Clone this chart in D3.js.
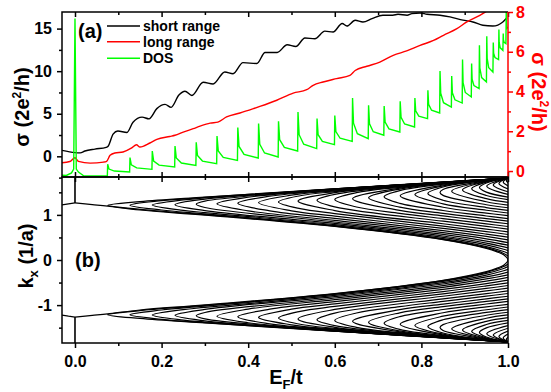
<!DOCTYPE html>
<html>
<head>
<meta charset="utf-8">
<script src="https://cdn.jsdelivr.net/npm/d3@7"></script>
<style>
  body { margin: 0; background: #fff; }
  svg text { font-family: "Liberation Sans", Arial, sans-serif; font-weight: bold; }
</style>
</head>
<body>
<div id="chart"></div>
<script>
// ---------- values ----------

// subband edges (E/t), taken from the DOS spikes / band tips
var subbandEdges = [0.0755, 0.127, 0.1785, 0.231, 0.280, 0.328, 0.376, 0.424, 0.470, 0.515,
                    0.559, 0.600, 0.641, 0.678, 0.714, 0.751, 0.785, 0.815, 0.843, 0.870,
                    0.895, 0.916, 0.934, 0.951, 0.966, 0.979, 0.989, 0.996];

// panel (a): short range conductance (left axis)
var shortE = [-0.030, 0.000, 0.012, 0.023, 0.046, 0.072, 0.076, 0.088, 0.099, 0.120,
              0.134, 0.155, 0.171, 0.189, 0.208, 0.222, 0.240, 0.254, 0.270, 0.296,
              0.319, 0.346, 0.365, 0.388, 0.420, 0.439, 0.467, 0.490, 0.510, 0.531,
              0.554, 0.577, 0.596, 0.617, 0.628, 0.647, 0.665, 0.686, 0.711, 0.734,
              0.746, 0.767, 0.778, 0.797, 0.813, 0.843, 0.866, 0.896, 0.919, 0.942,
              0.965, 0.988, 0.998];
var shortV = [0.70, 0.43, 0.40, 0.62, 0.85, 1.05, 1.15, 2.60, 2.97, 2.80,
              4.00, 4.60, 4.40, 5.60, 6.10, 5.75, 7.20, 7.65, 7.15, 8.70,
              8.50, 9.90, 9.70, 11.0, 10.9, 12.2, 12.2, 13.1, 12.9, 13.9,
              13.8, 14.7, 14.6, 15.6, 15.3, 15.98, 15.78, 16.18, 16.57, 16.57,
              16.68, 16.57, 16.76, 16.84, 16.68, 16.57, 16.37, 16.0, 15.78, 15.39,
              15.30, 15.78, 16.30];

// panel (a): long range conductance (right axis)
var longE = [-0.030, -0.012, 0.000, 0.008, 0.035, 0.066, 0.073, 0.081, 0.092, 0.111,
             0.131, 0.142, 0.150, 0.173, 0.189, 0.219, 0.231, 0.250, 0.273, 0.289,
             0.312, 0.330, 0.350, 0.381, 0.412, 0.427, 0.466, 0.504, 0.535, 0.550,
             0.573, 0.604, 0.635, 0.647, 0.674, 0.704, 0.735, 0.766, 0.797, 0.828,
             0.851, 0.882, 0.905, 0.935, 0.955];
var longV = [0.42, 0.48, 0.67, 0.49, 0.40, 0.45, 0.49, 0.79, 0.91, 0.96,
             1.16, 1.32, 1.21, 1.41, 1.59, 1.74, 1.80, 1.96, 2.13, 2.26,
             2.41, 2.46, 2.72, 2.92, 3.14, 3.25, 3.56, 3.92, 4.09, 4.31,
             4.48, 4.65, 4.81, 5.06, 5.27, 5.48, 5.82, 6.04, 6.32, 6.57,
             6.83, 7.16, 7.50, 7.83, 8.10];

// panel (a): DOS (left axis, arb. units)
var zeroSpikeE = [-0.030, -0.020, -0.008, -0.003, 0.000, 0.003, 0.008, 0.020];
var zeroSpikeV = [-2.23, -2.25, -1.95, -1.50, 16.18, -1.50, -1.85, -2.28];
var dosMin  = [-2.31, -1.84, -1.53, -1.26, -1.06, -0.86, -0.47, -0.20, -0.08, 0.62,
               0.90, 1.38, 1.76, 2.08, 2.47, 2.86, 3.44, 4.43, 5.09, 5.79,
               6.26, 6.97, 7.95, 8.73, 9.90, 11.36, 12.45, 13.24];
var dosPeak = [-0.94, -0.15, 0.62, 1.21, 1.64, 2.39, 3.37, 3.84, 4.11, 5.21,
               4.43, 4.78, 6.85, 5.99, 5.91, 6.46, 6.85, 7.75, 10.02, 9.43,
               11.36, 10.89, 13.04, 14.10, 13.36, 14.89, 14.42, 17.5];
var dosDrop = [-1.50, -1.01, -0.55, -0.20, 0.09, 0.62, 1.16, 1.41, 1.95, 2.54,
               2.54, 2.91, 3.89, 3.81, 4.02, 4.59, 5.35, 6.10, 7.40, 7.46,
               8.64, 9.07, 10.37, 11.50, 12.12, 13.38, 13.69, 15.6];
var dosTail = [-1.73, -1.36, -1.03, -0.79, -0.56, -0.13, 0.23, 0.39, 1.04, 1.42,
               1.75, 2.12, 2.65, 2.89, 3.23, 3.80, 4.72, 5.41, 6.30, 6.64,
               7.50, 8.30, 9.25, 10.40, 11.60, 12.74, 13.38, 15.0];
var dosEndV = 15.2;

// panel (b): band structure k_x (1/a), upper half (lower half is the mirror)
var zoneEdgeK = 1.814;
var bandTipK = [1.211, 1.215, 1.220, 1.227, 1.236, 1.246, 1.258, 1.272, 1.288, 1.306,
                1.325, 1.339, 1.359, 1.379, 1.401, 1.425, 1.450, 1.474, 1.499, 1.526,
                1.554, 1.581, 1.606, 1.635, 1.664, 1.696, 1.728, 1.762];
var bandEndK = [0.087, 0.147, 0.207, 0.269, 0.328, 0.386, 0.445, 0.506, 0.565, 0.625,
                0.685, 0.743, 0.804, 0.861, 0.919, 0.982, 1.042, 1.099, 1.158, 1.218,
                1.279, 1.339, 1.392, 1.453, 1.512, 1.578, 1.643, 1.711];
var bandLower = [
  [[0.15,1.122],[0.3,1.006],[0.6,0.750],[0.85,0.459],[0.95,0.273],[0.99,0.145]],
  [[0.2,1.108],[0.3,1.024],[0.6,0.763],[0.85,0.475],[0.95,0.298],[0.99,0.188]],
  [[0.25,1.100],[0.3,1.052],[0.6,0.783],[0.85,0.500],[0.95,0.334],[0.99,0.238]],
  [[0.3,1.096],[0.6,0.810],[0.85,0.532],[0.95,0.376]],
  [[0.3,1.163],[0.6,0.842],[0.85,0.566],[0.95,0.420]],
  [[0.4,1.089],[0.6,0.879],[0.85,0.606],[0.95,0.470]],
  [[0.45,1.089],[0.6,0.923],[0.85,0.652],[0.95,0.522]],
  [[0.5,1.091],[0.6,0.973],[0.85,0.700],[0.95,0.574]],
  [[0.52,1.138],[0.6,1.029],[0.85,0.751],[0.95,0.631]],
  [[0.6,1.096],[0.85,0.804],[0.95,0.686]],
  [[0.6,1.177],[0.85,0.860],[0.95,0.746]],
  [[0.65,1.175],[0.75,1.034],[0.85,0.917],[0.95,0.801]],
  [[0.75,1.101],[0.85,0.977],[0.95,0.861]],
  [[0.75,1.171],[0.85,1.035],[0.95,0.918]],
  [[0.75,1.255],[0.85,1.098],[0.95,0.976]],
  [[0.85,1.170],[0.95,1.040]],
  [[0.85,1.245],[0.95,1.103]],
  [[0.85,1.325],[0.95,1.163]],
  [[0.85,1.433],[0.95,1.225]],
  [[0.95,1.291]],
  [[0.95,1.361]],
  [[0.95,1.430]],
  [[0.95,1.504]],
  [], [], [], [], []
];
var bandUpper = [
  [[0.15,1.296],[0.3,1.397],[0.6,1.580]],
  [[0.2,1.315],[0.3,1.389],[0.6,1.578]],
  [[0.25,1.333],[0.3,1.374],[0.6,1.575]],
  [[0.3,1.350],[0.6,1.570]],
  [[0.3,1.305],[0.6,1.564]],
  [[0.4,1.391],[0.6,1.556]],
  [[0.45,1.414],[0.6,1.546]],
  [[0.5,1.437],[0.6,1.533]],
  [[0.52,1.425],[0.6,1.516]],
  [[0.6,1.492]],
  [[0.6,1.455]],
  [[0.65,1.492],[0.75,1.611]],
  [[0.75,1.594]],
  [[0.75,1.573]],
  [[0.75,1.539]],
  [[0.85,1.662],[0.95,1.768]],
  [[0.85,1.644]],
  [[0.85,1.618]],
  [[0.85,1.564],[0.95,1.756]],
  [[0.95,1.750]],
  [[0.95,1.740]],
  [[0.95,1.728]],
  [[0.95,1.707]],
  [], [], [], [], []
];
// edge-state band
var edgeE = [0, 0.04, 0.0755, 0.15, 0.3, 0.6, 0.85, 0.95, 0.975, 0.99, 1.0];
var edgeK = [1.265, 1.228, 1.195, 1.108, 0.995, 0.743, 0.450, 0.257, 0.180, 0.116, 0.0];
var edgeNegE = [-0.03, -0.015, 0];
var edgeNegK = [1.22, 1.245, 1.265];
var flatBandK = [1.265, 1.84];

// ticks
var xMajor = [0, 0.2, 0.4, 0.6, 0.8, 1.0];
var xMinor = [0.1, 0.3, 0.5, 0.7, 0.9];
var leftMajor = [0, 5, 10, 15];
var leftMinor = [-2.5, 2.5, 7.5, 12.5];
var rightMajor = [0, 2, 4, 6, 8];
var rightMinor = [1, 3, 5, 7];
var kMajor = [-1, 0, 1];
var kMinor = [-1.5, -0.5, 0.5, 1.5];

// ---------- chart ----------
var svgWidth = 551, svgHeight = 392;
var left = 62, right = 508, topA = 12, midY = 177, botB = 343;

var svg = d3.select("#chart").append("svg")
  .attr("width", svgWidth)
  .attr("height", svgHeight);

var x = d3.scaleLinear().domain([-0.03, 1.0]).range([left, right]);
var yA = d3.scaleLinear().domain([-2.43, 16.95]).range([midY, topA]);
var yR = d3.scaleLinear().domain([-0.30, 8.0]).range([midY, topA]);
var yB = d3.scaleLinear().domain([-1.84, 1.84]).range([botB, midY]);

var defs = svg.append("defs");
defs.append("clipPath").attr("id", "clipA").append("rect")
  .attr("x", left).attr("y", topA).attr("width", right - left).attr("height", midY - topA);
defs.append("clipPath").attr("id", "clipB").append("rect")
  .attr("x", left).attr("y", midY).attr("width", right - left).attr("height", botB - midY);

// panel (a) curves
var gA = svg.append("g").attr("clip-path", "url(#clipA)");

var lineA = d3.line().x(d => x(d[0])).y(d => yA(d[1]));
var smoothA = d3.line().x(d => x(d[0])).y(d => yA(d[1])).curve(d3.curveMonotoneX);
var smoothR = d3.line().x(d => x(d[0])).y(d => yR(d[1])).curve(d3.curveMonotoneX);

gA.append("path")
  .datum(d3.zip(shortE, shortV))
  .attr("d", smoothA)
  .attr("fill", "none").attr("stroke", "#000").attr("stroke-width", 1.4);

gA.append("path")
  .datum(d3.zip(longE, longV))
  .attr("d", smoothR)
  .attr("fill", "none").attr("stroke", "#ff0000").attr("stroke-width", 1.4);

// DOS path: zero-energy spike, then one spike per subband edge
var dosPts = d3.zip(zeroSpikeE, zeroSpikeV);
subbandEdges.forEach(function(e, i) {
  var next = i < subbandEdges.length - 1 ? subbandEdges[i + 1] : 1.0;
  var gap = next - e;
  dosPts.push([e - 0.0008, dosMin[i]]);
  dosPts.push([e, dosPeak[i]]);
  dosPts.push([e + 0.06 * gap, dosDrop[i]]);
  dosPts.push([e + 0.3 * gap, dosTail[i]]);
});
dosPts.push([1.0, dosEndV]);

gA.append("path")
  .datum(dosPts)
  .attr("d", lineA)
  .attr("fill", "none").attr("stroke", "#00ff00").attr("stroke-width", 1.4);

// panel (b) bands
var gB = svg.append("g").attr("clip-path", "url(#clipB)");
var bandLine = d3.line()
  .x(d => x(d[0])).y(d => yB(d[1]))
  .curve(d3.curveCatmullRom.alpha(0.5));
var plainLine = d3.line().x(d => x(d[0])).y(d => yB(d[1]));

subbandEdges.forEach(function(e, i) {
  var pts = [[1.0, zoneEdgeK]]
    .concat(bandUpper[i].slice().reverse())
    .concat([[e, bandTipK[i]]])
    .concat(bandLower[i])
    .concat([[1.0, bandEndK[i]]]);
  [1, -1].forEach(function(s) {
    gB.append("path")
      .datum(pts.map(p => [p[0], s * p[1]]))
      .attr("d", bandLine)
      .attr("fill", "none").attr("stroke", "#000").attr("stroke-width", 1.2);
  });
});

// edge band, joined through k = 0 at E = t
var edgePos = d3.zip(edgeE, edgeK);
var edgeAll = edgePos.concat(edgePos.slice(0, -1).reverse().map(p => [p[0], -p[1]]));
gB.append("path").datum(edgeAll).attr("d", bandLine)
  .attr("fill", "none").attr("stroke", "#000").attr("stroke-width", 1.2);

[1, -1].forEach(function(s) {
  gB.append("path")
    .datum(d3.zip(edgeNegE, edgeNegK).map(p => [p[0], s * p[1]]))
    .attr("d", plainLine)
    .attr("fill", "none").attr("stroke", "#000").attr("stroke-width", 1.2);
  gB.append("path")
    .datum(flatBandK.map(k => [0, s * k]))
    .attr("d", plainLine)
    .attr("fill", "none").attr("stroke", "#000").attr("stroke-width", 1.6);
});

// ---------- axes ----------
function styleAxis(g, color, fontSize) {
  g.select(".domain").remove();
  g.selectAll("line").attr("stroke", color).attr("stroke-width", 1.5);
  g.selectAll("text").attr("fill", color).style("font-size", fontSize + "px");
}
var fmtX = d => d.toFixed(1);
var fmtI = d => String(d);

// panel (a) left
styleAxis(svg.append("g").attr("transform", `translate(${left},0)`)
  .call(d3.axisLeft(yA).tickValues(leftMajor).tickSize(5).tickPadding(5).tickFormat(fmtI)), "#000", 16);
styleAxis(svg.append("g").attr("transform", `translate(${left},0)`)
  .call(d3.axisLeft(yA).tickValues(leftMinor).tickSize(3).tickFormat("")), "#000", 16);
// panel (a) right (red)
styleAxis(svg.append("g").attr("transform", `translate(${right},0)`)
  .call(d3.axisRight(yR).tickValues(rightMajor).tickSize(5).tickPadding(3).tickFormat(fmtI)), "#ff0000", 16);
styleAxis(svg.append("g").attr("transform", `translate(${right},0)`)
  .call(d3.axisRight(yR).tickValues(rightMinor).tickSize(3).tickFormat("")), "#ff0000", 16);
// panel (a) top and bottom, inward
styleAxis(svg.append("g").attr("transform", `translate(0,${topA})`)
  .call(d3.axisTop(x).tickValues(xMajor).tickSize(-5).tickFormat("")), "#000", 16);
styleAxis(svg.append("g").attr("transform", `translate(0,${topA})`)
  .call(d3.axisTop(x).tickValues(xMinor).tickSize(-3).tickFormat("")), "#000", 16);
styleAxis(svg.append("g").attr("transform", `translate(0,${midY})`)
  .call(d3.axisBottom(x).tickValues(xMajor).tickSize(-5).tickFormat("")), "#000", 16);
styleAxis(svg.append("g").attr("transform", `translate(0,${midY})`)
  .call(d3.axisBottom(x).tickValues(xMinor).tickSize(-3).tickFormat("")), "#000", 16);
// panel (b) top inward
styleAxis(svg.append("g").attr("transform", `translate(0,${midY})`)
  .call(d3.axisTop(x).tickValues(xMajor).tickSize(-5).tickFormat("")), "#000", 16);
styleAxis(svg.append("g").attr("transform", `translate(0,${midY})`)
  .call(d3.axisTop(x).tickValues(xMinor).tickSize(-3).tickFormat("")), "#000", 16);
// panel (b) bottom, outward with labels
styleAxis(svg.append("g").attr("transform", `translate(0,${botB})`)
  .call(d3.axisBottom(x).tickValues(xMajor).tickSize(5).tickPadding(8).tickFormat(fmtX)), "#000", 16);
styleAxis(svg.append("g").attr("transform", `translate(0,${botB})`)
  .call(d3.axisBottom(x).tickValues(xMinor).tickSize(3).tickFormat("")), "#000", 16);
// panel (b) left
styleAxis(svg.append("g").attr("transform", `translate(${left},0)`)
  .call(d3.axisLeft(yB).tickValues(kMajor).tickSize(5).tickPadding(5).tickFormat(fmtI)), "#000", 16);
styleAxis(svg.append("g").attr("transform", `translate(${left},0)`)
  .call(d3.axisLeft(yB).tickValues(kMinor).tickSize(3).tickFormat("")), "#000", 16);

// frames
var frame = svg.append("g").attr("fill", "none").attr("stroke-width", 1.5);
frame.append("path").attr("d", `M${right},${topA}H${left}V${midY}H${right}`).attr("stroke", "#000");
frame.append("line").attr("x1", right).attr("x2", right).attr("y1", topA).attr("y2", midY).attr("stroke", "#ff0000");
frame.append("rect").attr("x", left).attr("y", midY).attr("width", right - left).attr("height", botB - midY).attr("stroke", "#000");

// ---------- labels ----------
svg.append("text").attr("x", 78).attr("y", 38).style("font-size", "20px").text("(a)");
svg.append("text").attr("x", 75).attr("y", 267).style("font-size", "20px").text("(b)");

// legend
var legendItems = [["short range", "#000", 26], ["long range", "#ff0000", 41.7], ["DOS", "#00ff00", 58.3]];
legendItems.forEach(function(it) {
  svg.append("line").attr("x1", 107).attr("x2", 140).attr("y1", it[2]).attr("y2", it[2])
    .attr("stroke", it[1]).attr("stroke-width", 1.5);
  svg.append("text").attr("x", 143).attr("y", it[2] + 5).style("font-size", "14px").text(it[0]);
});

// axis titles
function sigmaTitle(t) {
  t.append("tspan").text("\u03c3 (2e");
  t.append("tspan").attr("dy", -8).style("font-size", "12px").text("2");
  t.append("tspan").attr("dy", 8).text("/h)");
}
var tl = svg.append("text").attr("transform", "translate(29,107) rotate(-90)")
  .attr("text-anchor", "middle").style("font-size", "20px");
sigmaTitle(tl);

var tr = svg.append("text").attr("transform", "translate(532,92) rotate(90)")
  .attr("text-anchor", "middle").attr("fill", "#ff0000").style("font-size", "20px");
sigmaTitle(tr);

var tk = svg.append("text").attr("transform", "translate(33,256) rotate(-90)")
  .attr("text-anchor", "middle").style("font-size", "20px");
tk.append("tspan").text("k");
tk.append("tspan").attr("dy", 5).style("font-size", "13px").text("x");
tk.append("tspan").attr("dy", -5).text(" (1/a)");

var te = svg.append("text").attr("x", 286).attr("y", 384)
  .attr("text-anchor", "middle").style("font-size", "20px");
te.append("tspan").text("E");
te.append("tspan").attr("dy", 5).style("font-size", "13px").text("F");
te.append("tspan").attr("dy", -5).text("/t");
</script>
</body>
</html>
